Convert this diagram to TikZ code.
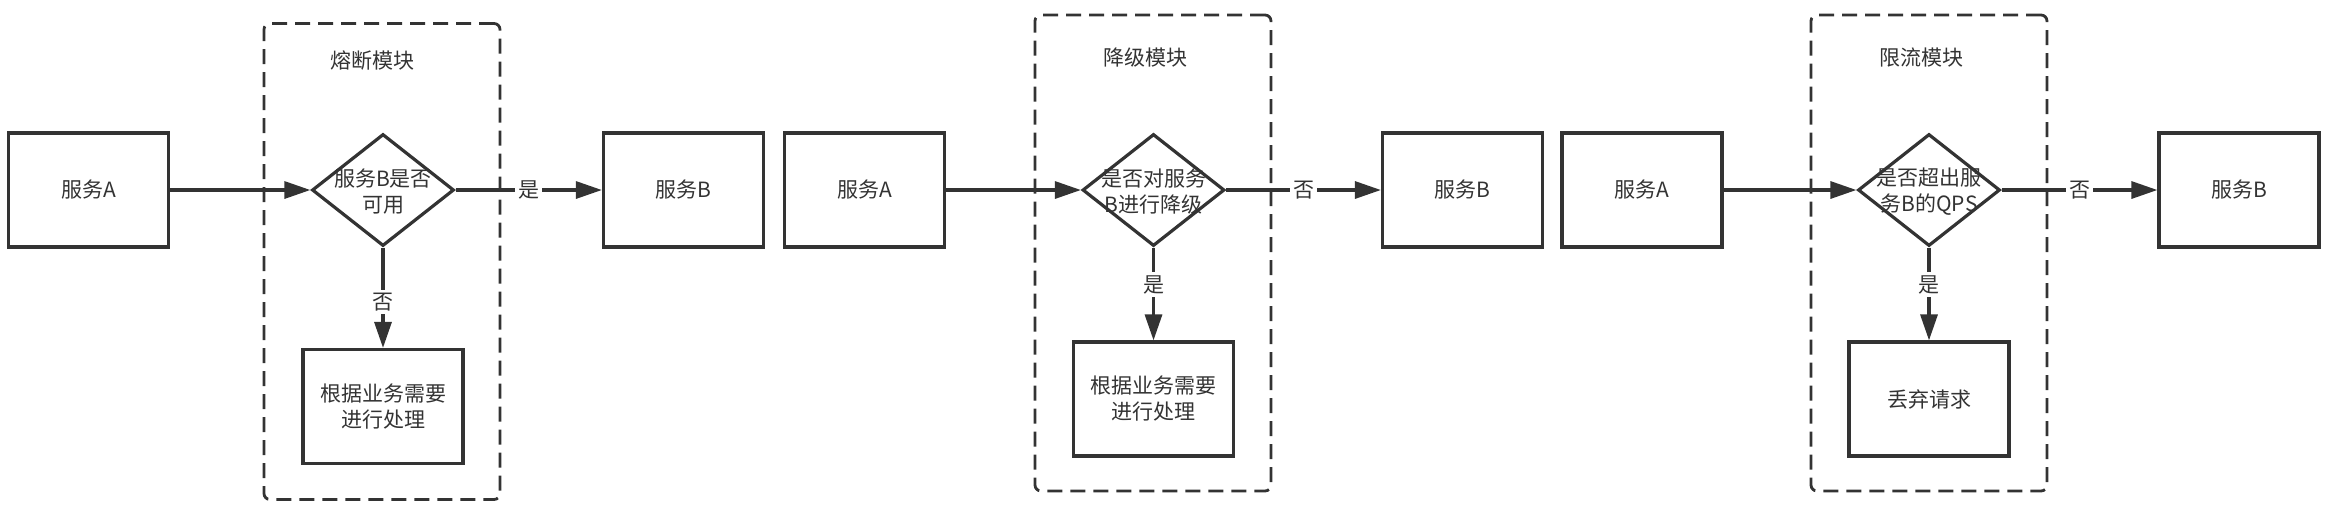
\documentclass[tikz,border=0pt]{standalone}
\usepackage{fontspec}
\newfontfamily\cjk{Noto Sans CJK SC}
\usepackage{tikz}
\usetikzlibrary{arrows.meta,shapes.geometric}
\usetikzlibrary{positioning,calc}
\definecolor{ink}{HTML}{333333}

\begin{document}
\begin{tikzpicture}[x=0.5pt,y=-0.5pt]
\tikzstyle{every node}+=[inner sep=0pt,text=ink,font=\cjk\fontsize{10.5}{13}\selectfont]
\tikzstyle{svc}=[draw=ink,line width=1.6pt,minimum width=80pt,minimum height=57pt]
\tikzstyle{decision}=[draw=ink,line width=1.6pt,diamond,minimum width=71pt,minimum height=56pt]
\tikzstyle{module}=[draw=ink,line width=1.4pt,dash pattern=on 7.5pt off 4pt,rounded corners=3pt,minimum width=118pt,minimum height=238pt]
\tikzstyle{flow}=[draw=ink,line width=1.6pt,-{Triangle[length=13pt,width=8.5pt]}]
\tikzstyle{lbl}=[fill=white,inner sep=1.5pt]
\useasboundingbox (0,0) rectangle (2329,511);
\node [module] (m1) at (382,261.5) {};
\node [module] (m2) at (1153,253) {};
\node [module] (m3) at (1929,253) {};
\node (t1) at (372,60) {熔断模块};
\node (t2) at (1145,58) {降级模块};
\node (t3) at (1921,58) {限流模块};
\node [svc] (a1) at (88.5,190) {服务A};
\node [decision] (d1) at (383,190) {};
\node [align=center] (q1) at (383,192) {服务B是否\\可用};
\node [svc] (b1) at (683.5,190) {服务B};
\node [svc] (c1) at (383,406.5) {};
\node [align=center] (h1) at (c1) {根据业务需要\\进行处理};
\node [svc] (a2) at (864.5,190) {服务A};
\node [decision] (d2) at (1153.5,190) {};
\node [align=center] (q2) at (1153.5,192) {是否对服务\\B进行降级};
\node [svc] (b2) at (1462.5,190) {服务B};
\node [svc] (c2) at (1153.5,399) {};
\node [align=center] (h2) at (c2) {根据业务需要\\进行处理};
\node [svc] (a3) at (1642,190) {服务A};
\node [decision] (d3) at (1929,190) {};
\node [align=center] (q3) at (1929,192) {是否超出服\\务B的QPS};
\node [svc] (b3) at (2239,190) {服务B};
\node [svc] (c3) at (1929,399) {丢弃请求};
\draw [flow] (a1) -- (d1);
\draw [flow] (d1) -- node [lbl] {是} (b1);
\draw [flow] (d1) -- node [lbl,pos=0.54] {否} (c1);
\draw [flow] (a2) -- (d2);
\draw [flow] (d2) -- node [lbl] {否} (b2);
\draw [flow] (d2) -- node [lbl,pos=0.4] {是} (c2);
\draw [flow] (a3) -- (d3);
\draw [flow] (d3) -- node [lbl] {否} (b3);
\draw [flow] (d3) -- node [lbl,pos=0.4] {是} (c3);
\end{tikzpicture}
\end{document}
